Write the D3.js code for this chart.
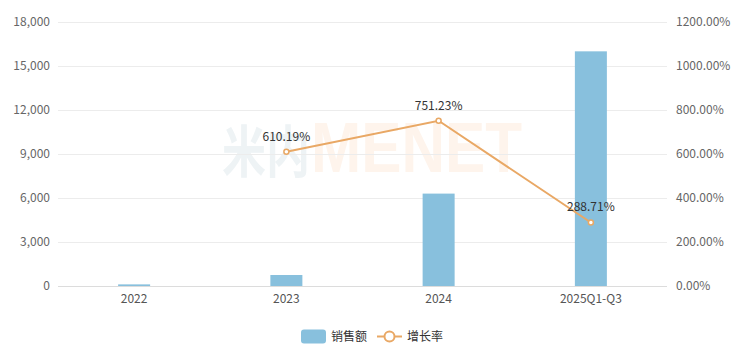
<!DOCTYPE html>
<html>
<head>
<meta charset="utf-8">
<script src="https://cdn.jsdelivr.net/npm/d3@7"></script>
<style>
  body { margin: 0; background: #fff; }
  svg { font-family: "Noto Sans CJK SC", "Noto Sans", sans-serif; }
</style>
</head>
<body>
<div id="chart"></div>
<script>
  const categories = ['2022', '2023', '2024', '2025Q1-Q3'];
  const sales = [110, 750, 6300, 16000];
  const growth = [null, 610.19, 751.23, 288.71];
  const leftTicks = [0, 3000, 6000, 9000, 12000, 15000, 18000];
  const rightTicks = [0, 200, 400, 600, 800, 1000, 1200];

  const W = 745, H = 355;
  const plotLeft = 58, plotRight = 667, plotTop = 22, plotBottom = 286;
  const barColor = '#88c0dd';
  const lineColor = '#e9a865';

  const svg = d3.select('#chart').append('svg')
    .attr('width', W)
    .attr('height', H);

  const x = d3.scaleBand().domain(categories).range([plotLeft, plotRight]);
  const yL = d3.scaleLinear().domain([0, 18000]).range([plotBottom, plotTop]);
  const yR = d3.scaleLinear().domain([0, 1200]).range([plotBottom, plotTop]);

  // watermark
  const wm = svg.append('g').attr('font-weight', 'bold');
  wm.append('text')
    .attr('x', 222).attr('y', 172)
    .attr('font-size', 56)
    .attr('textLength', 88).attr('lengthAdjust', 'spacingAndGlyphs')
    .attr('fill', '#eef3f5')
    .text('米内');
  wm.append('text')
    .attr('x', 311).attr('y', 172)
    .attr('font-size', 70)
    .attr('font-family', 'Arial, "Liberation Sans", sans-serif')
    .attr('textLength', 211).attr('lengthAdjust', 'spacingAndGlyphs')
    .attr('fill', '#fef4ec')
    .text('MENET');

  // grid
  svg.append('g').selectAll('line')
    .data(leftTicks)
    .join('line')
    .attr('x1', plotLeft).attr('x2', plotRight)
    .attr('y1', d => Math.round(yL(d)) + 0.5)
    .attr('y2', d => Math.round(yL(d)) + 0.5)
    .attr('stroke', d => d === 0 ? '#dcdcdc' : '#ececec');

  // left axis labels
  svg.append('g').selectAll('text')
    .data(leftTicks)
    .join('text')
    .attr('x', 50)
    .attr('y', d => yL(d) + 4)
    .attr('text-anchor', 'end')
    .attr('font-size', 12)
    .attr('fill', '#666')
    .text(d => d3.format(',')(d));

  // right axis labels
  svg.append('g').selectAll('text')
    .data(rightTicks)
    .join('text')
    .attr('x', 676)
    .attr('y', d => yR(d) + 4)
    .attr('font-size', 12)
    .attr('fill', '#666')
    .text(d => d3.format('.2f')(d) + '%');

  // x labels
  svg.append('g').selectAll('text')
    .data(categories)
    .join('text')
    .attr('x', d => x(d) + x.bandwidth() / 2)
    .attr('y', 303)
    .attr('text-anchor', 'middle')
    .attr('font-size', 12)
    .attr('fill', '#555')
    .text(d => d);

  // bars
  const barW = 32;
  svg.append('g').selectAll('rect')
    .data(sales)
    .join('rect')
    .attr('x', (d, i) => x(categories[i]) + x.bandwidth() / 2 - barW / 2)
    .attr('y', d => yL(d))
    .attr('width', barW)
    .attr('height', d => plotBottom - yL(d))
    .attr('fill', barColor);

  // growth line
  const pts = growth.map((g, i) => ({ c: categories[i], g: g })).filter(d => d.g !== null);
  const line = d3.line()
    .x(d => x(d.c) + x.bandwidth() / 2)
    .y(d => yR(d.g));

  svg.append('path')
    .datum(pts)
    .attr('d', line)
    .attr('fill', 'none')
    .attr('stroke', lineColor)
    .attr('stroke-width', 2);

  svg.append('g').selectAll('circle')
    .data(pts)
    .join('circle')
    .attr('cx', d => x(d.c) + x.bandwidth() / 2)
    .attr('cy', d => yR(d.g))
    .attr('r', 2.5)
    .attr('fill', '#fff')
    .attr('stroke', lineColor)
    .attr('stroke-width', 1.5);

  svg.append('g').selectAll('text')
    .data(pts)
    .join('text')
    .attr('x', d => x(d.c) + x.bandwidth() / 2)
    .attr('y', d => yR(d.g) - 11)
    .attr('text-anchor', 'middle')
    .attr('font-size', 12)
    .attr('fill', '#333')
    .text(d => d.g.toFixed(2) + '%');

  // legend
  const lg = svg.append('g').attr('transform', 'translate(0, 336)');
  lg.append('rect')
    .attr('x', 301).attr('y', -6.5)
    .attr('width', 25).attr('height', 14)
    .attr('rx', 3)
    .attr('fill', barColor);
  lg.append('text')
    .attr('x', 331).attr('y', 4.5)
    .attr('font-size', 12)
    .attr('fill', '#333')
    .text('销售额');
  lg.append('line')
    .attr('x1', 377).attr('x2', 402)
    .attr('y1', 0.5).attr('y2', 0.5)
    .attr('stroke', lineColor)
    .attr('stroke-width', 2);
  lg.append('circle')
    .attr('cx', 389.5).attr('cy', 0.5)
    .attr('r', 5)
    .attr('fill', '#fff')
    .attr('stroke', lineColor)
    .attr('stroke-width', 2);
  lg.append('text')
    .attr('x', 407).attr('y', 4.5)
    .attr('font-size', 12)
    .attr('fill', '#333')
    .text('增长率');
</script>
</body>
</html>
